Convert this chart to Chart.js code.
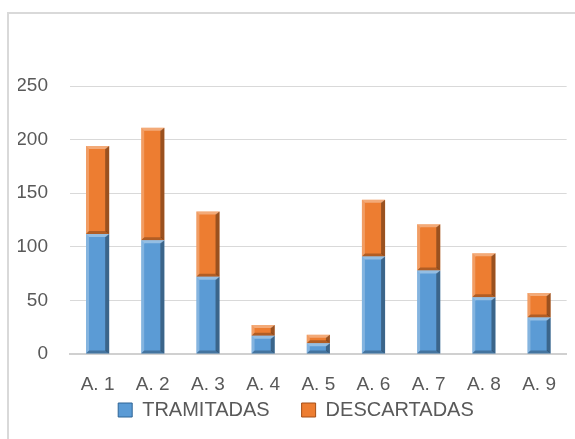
<!DOCTYPE html>
<html lang="es">
<head>
    <meta charset="UTF-8">
    <title>Tramitadas / Descartadas</title>
    <style>
        body {
            margin: 0;
            background: #fff;
            font-family: "Liberation Sans", Arial, sans-serif;
        }
        #wrap {
            position: relative;
            width: 575px;
            height: 439px;
            overflow: hidden;
        }
        #marco {
            position: absolute;
            left: 7px;
            top: 12px;
            width: 600px;
            height: 500px;
            border-left: 2px solid #d9d9d9;
            border-top: 2px solid #d9d9d9;
        }
        #grafico {
            position: absolute;
            left: 0;
            top: 0;
        }
    </style>
</head>
<body>
    <div id="wrap">
        <div id="marco"></div>
        <canvas id="grafico" width="575" height="439"></canvas>
    </div>

    <script src="https://cdn.jsdelivr.net/npm/chart.js"></script>

    <script>
        const categorias = ["A. 1", "A. 2", "A. 3", "A. 4", "A. 5", "A. 6", "A. 7", "A. 8", "A. 9"];
        const tramitadas = [112, 106, 72, 17, 10, 91, 78, 53, 34];
        const descartadas = [82, 105, 61, 10, 8, 53, 43, 41, 23];
        const ticksY = [0, 50, 100, 150, 200, 250];

        const fuente = { family: "Liberation Sans", size: 19 };
        const gris = "#595959";

        // relieve tipo "bisel" sobre cada barra
        const bisel = {
            id: "bisel",
            afterDatasetsDraw(chart) {
                const ctx = chart.ctx;
                chart.data.datasets.forEach((ds, i) => {
                    const meta = chart.getDatasetMeta(i);
                    meta.data.forEach(bar => {
                        const l = bar.x - bar.width / 2;
                        const r = bar.x + bar.width / 2;
                        const t = Math.min(bar.y, bar.base);
                        const b = Math.max(bar.y, bar.base);
                        const k = Math.min(3, (b - t) / 2);
                        ctx.save();
                        // arriba claro
                        ctx.fillStyle = "rgba(255,255,255,0.35)";
                        ctx.beginPath();
                        ctx.moveTo(l, t); ctx.lineTo(r, t); ctx.lineTo(r - k, t + k); ctx.lineTo(l + k, t + k);
                        ctx.fill();
                        // izquierda claro
                        ctx.fillStyle = "rgba(255,255,255,0.25)";
                        ctx.beginPath();
                        ctx.moveTo(l, t); ctx.lineTo(l + k, t + k); ctx.lineTo(l + k, b - k); ctx.lineTo(l, b);
                        ctx.fill();
                        // derecha oscuro
                        ctx.fillStyle = "rgba(0,0,0,0.35)";
                        ctx.beginPath();
                        ctx.moveTo(r, t); ctx.lineTo(r - k - 1, t + k); ctx.lineTo(r - k - 1, b - k); ctx.lineTo(r, b);
                        ctx.fill();
                        // abajo oscuro
                        ctx.fillStyle = "rgba(0,0,0,0.25)";
                        ctx.beginPath();
                        ctx.moveTo(l, b); ctx.lineTo(r, b); ctx.lineTo(r - k, b - k); ctx.lineTo(l + k, b - k);
                        ctx.fill();
                        ctx.restore();
                    });
                });
            }
        };

        const ctx = document.getElementById("grafico").getContext("2d");
        const grafico = new Chart(ctx, {
            type: "bar",
            data: {
                labels: categorias,
                datasets: [
                    {
                        label: "TRAMITADAS",
                        data: tramitadas,
                        backgroundColor: "#5b9bd5",
                        borderColor: "#2f6496",
                        borderWidth: 0,
                        barPercentage: 0.42,
                        categoryPercentage: 1
                    },
                    {
                        label: "DESCARTADAS",
                        data: descartadas,
                        backgroundColor: "#ed7d31",
                        borderColor: "#a54f16",
                        borderWidth: 0,
                        barPercentage: 0.42,
                        categoryPercentage: 1
                    }
                ]
            },
            options: {
                responsive: false,
                animation: false,
                layout: {
                    padding: { top: 86, left: 18, right: 1, bottom: 9 }
                },
                scales: {
                    x: {
                        stacked: true,
                        grid: { display: false, drawTicks: false },
                        border: { color: "#d0d0d0", width: 2 },
                        ticks: { color: gris, font: fuente, padding: 19 },
                        afterFit(scale) { scale.height = 42; }
                    },
                    y: {
                        stacked: true,
                        min: 0,
                        max: 250,
                        afterBuildTicks(scale) {
                            scale.ticks = ticksY.map(v => ({ value: v }));
                        },
                        afterFit(scale) { scale.width = 52; },
                        grid: { color: "#d9d9d9", drawTicks: false },
                        border: { display: false },
                        ticks: { color: gris, font: fuente, padding: 22 }
                    }
                },
                plugins: {
                    legend: {
                        position: "bottom",
                        labels: {
                            color: gris,
                            font: { family: "Liberation Sans", size: 20 },
                            boxWidth: 14,
                            boxHeight: 14,
                            padding: 4,
                            // hueco entre las dos entradas
                            generateLabels(chart) {
                                const items = Chart.defaults.plugins.legend.labels.generateLabels(chart);
                                items.forEach(it => { it.lineWidth = 1; });
                                items.splice(1, 0, {
                                    text: "",
                                    fillStyle: "rgba(0,0,0,0)",
                                    strokeStyle: "rgba(0,0,0,0)",
                                    lineWidth: 0,
                                    hidden: false,
                                    datasetIndex: -1
                                });
                                return items;
                            }
                        }
                    },
                    tooltip: { enabled: false }
                }
            },
            plugins: [bisel]
        });
    </script>
</body>
</html>
